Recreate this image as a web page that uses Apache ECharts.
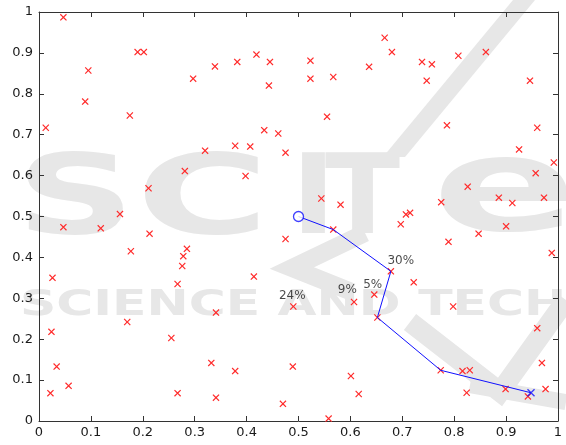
<!DOCTYPE html>
<html><head><meta charset="utf-8">
<script src="https://cdn.jsdelivr.net/npm/echarts@6/dist/echarts.min.js"></script>
<style>html,body{margin:0;padding:0;background:#fff}#c{width:566px;height:445px}</style>
</head><body><div id="c"></div>
<script>
// Scatter points (red x markers)
const pointX = [0.013,0.047,0.095,0.089,0.175,0.190,0.202,0.211,0.156,0.281,
  0.297,0.320,0.339,0.378,0.382,0.398,0.407,0.419,0.434,0.445,
  0.443,0.461,0.475,0.523,0.523,0.567,0.555,0.636,0.666,0.680,
  0.738,0.757,0.747,0.808,0.861,0.786,0.946,0.960,0.925,0.992,
  0.957,0.826,0.886,0.912,0.973,0.775,0.544,0.581,0.707,0.715,
  0.697,0.900,0.475,0.567,0.789,0.847,0.988,0.678,0.722,0.646,
  0.607,0.490,0.798,0.652,0.960,0.969,0.774,0.816,0.830,0.489,
  0.601,0.976,0.899,0.942,0.824,0.616,0.470,0.558,0.047,0.119,
  0.213,0.177,0.026,0.285,0.278,0.276,0.267,0.414,0.024,0.170,
  0.255,0.341,0.034,0.057,0.022,0.267,0.332,0.378,0.341];
const pointY = [0.717,0.987,0.857,0.781,0.747,0.902,0.902,0.569,0.506,0.611,
  0.837,0.661,0.867,0.673,0.878,0.599,0.671,0.896,0.711,0.878,
  0.820,0.703,0.656,0.881,0.837,0.841,0.744,0.866,0.937,0.902,
  0.878,0.872,0.832,0.893,0.902,0.723,0.832,0.717,0.664,0.632,
  0.606,0.573,0.546,0.533,0.546,0.535,0.544,0.529,0.505,0.509,
  0.481,0.476,0.445,0.468,0.438,0.458,0.411,0.366,0.339,0.309,
  0.291,0.280,0.280,0.253,0.227,0.142,0.124,0.122,0.124,0.133,
  0.110,0.078,0.078,0.060,0.069,0.066,0.042,0.006,0.474,0.471,
  0.458,0.415,0.350,0.421,0.403,0.379,0.335,0.353,0.218,0.242,
  0.203,0.265,0.133,0.086,0.068,0.068,0.142,0.122,0.057];
// Blue path
const pathX = [0.500,0.567,0.678,0.652,0.774,0.948];
const pathY = [0.500,0.468,0.366,0.253,0.124,0.069];
// Percentage annotations
const labelText = ['30%','5%','9%','24%'];
const labelX = [0.697,0.643,0.594,0.488];
const labelY = [0.392,0.332,0.320,0.306];
// Axis ticks
const axisMin = 0, axisMax = 1, axisStep = 0.1;

const crossPath = 'path://M0,1.2L1.2,0L5,3.8L8.8,0L10,1.2L6.2,5L10,8.8L8.8,10L5,6.2L1.2,10L0,8.8L3.8,5Z';
const wm = '#e7e7e7';
const bigFont = 'bold 110px "DejaVu Sans"';
const chart = echarts.init(document.getElementById('c'), null, {renderer:'canvas'});
const axisBase = {
  type:'value', min:axisMin, max:axisMax, interval:axisStep,
  axisLine:{show:true, onZero:false, lineStyle:{color:'#333', width:1}},
  axisTick:{show:true, inside:true, length:5, lineStyle:{color:'#333'}},
  splitLine:{show:false}
};
const lbl = {color:'#1a1a1a', fontSize:13, fontFamily:'DejaVu Sans'};
chart.setOption({
  animation:false,
  backgroundColor:'#fff',
  grid:{left:39, right:8, top:12, bottom:24, containLabel:false},
  xAxis:[
    Object.assign({}, axisBase, {position:'bottom', axisLabel:Object.assign({margin:5}, lbl)}),
    Object.assign({}, axisBase, {position:'top', axisLabel:{show:false}})
  ],
  yAxis:[
    Object.assign({}, axisBase, {position:'left', axisLabel:Object.assign({margin:6}, lbl)}),
    Object.assign({}, axisBase, {position:'right', axisLabel:{show:false}})
  ],
  graphic:{elements:[
    {type:'text', z:-10, x:16, y:204, scaleX:1.5, style:{text:'S', fill:wm, font:bigFont, verticalAlign:'middle'}},
    {type:'text', z:-10, x:136, y:204, scaleX:1.65, style:{text:'C', fill:wm, font:bigFont, verticalAlign:'middle'}},
    {type:'text', z:-10, x:291, y:204, scaleX:1.1, style:{text:'I', fill:wm, font:bigFont, verticalAlign:'middle'}},
    {type:'text', z:-10, x:325, y:204, scaleX:1.0, style:{text:'T', fill:wm, font:bigFont, verticalAlign:'middle'}},
    {type:'text', z:-10, x:432, y:196, scaleX:1.65, style:{text:'e', fill:wm, font:'bold 130px "DejaVu Sans"', verticalAlign:'middle'}},
    {type:'text', z:-10, x:20, y:306, scaleX:1.4, style:{text:'SCIENCE AND TECHNOLOGY', fill:wm, font:'bold 36px "DejaVu Sans"', verticalAlign:'middle'}},
    {type:'polygon', z:-10, shape:{points:[[513,0],[535,0],[405,157],[383,157]]}, style:{fill:wm}},
    {type:'polyline', z:-10, shape:{points:[[365,233],[292,268],[352,292]]}, style:{stroke:wm, lineWidth:18, fill:null}},
    {type:'polyline', z:-10, shape:{points:[[410,322],[500,392],[566,300]]}, style:{stroke:wm, lineWidth:20, fill:null}},
    {type:'polyline', z:-10, shape:{points:[[470,385],[566,402]]}, style:{stroke:wm, lineWidth:16, fill:null}}
  ]},
  series:[
    {type:'scatter', z:3, symbol:crossPath, symbolSize:7,
     itemStyle:{color:'#ff2a2a', opacity:1},
     data:pointX.map((x,i)=>[x,pointY[i]])},
    {type:'line', z:4, symbol:'none', lineStyle:{color:'#1010ff', width:1},
     data:pathX.map((x,i)=>[x,pathY[i]])},
    {type:'scatter', z:5, symbol:'circle', symbolSize:10,
     itemStyle:{color:'#fff', borderColor:'#1010ff', borderWidth:1.3},
     data:[[pathX[0],pathY[0]]]},
    {type:'scatter', z:5, symbol:crossPath, symbolSize:8,
     itemStyle:{color:'#1010ff'},
     data:[[pathX[pathX.length-1],pathY[pathY.length-1]]]},
    {type:'scatter', z:6, symbolSize:1, itemStyle:{color:'rgba(0,0,0,0)'},
     label:{show:true, position:'inside', formatter:p=>p.name, color:'#1a1a1a', fontSize:12, fontFamily:'DejaVu Sans'},
     data:labelText.map((t,i)=>({name:t, value:[labelX[i],labelY[i]]}))}
  ]
});
</script></body></html>
